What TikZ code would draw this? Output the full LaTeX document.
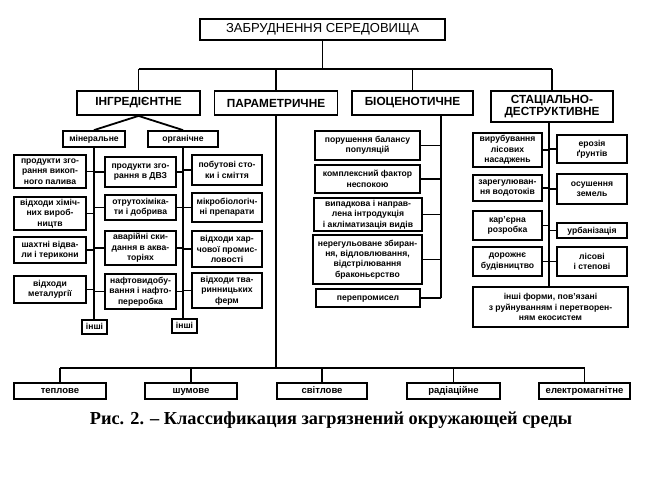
\documentclass[tikz,border=0pt]{standalone}
\usepackage{fontspec}
\setmainfont{Liberation Sans}
\newfontfamily\capfont{Liberation Serif}
\newcommand\mybox[6]{\node[bx, minimum width={(#4-#2)*1pt}, minimum height={(#5-#3)*1pt}] (#1) at ({(#2+#4)/2},{(#3+#5)/2}) {#6};}
\newcommand\myone[6]{\node[base, lc, minimum width={(#4-#2)*1pt}, minimum height={(#5-#3)*1pt}] (#1) at ({(#2+#4)/2},{(#3+#5)/2}) {#6};}
\begin{document}
\begin{tikzpicture}[x=1pt,y=-1pt,
  base/.style={draw, line width=1.8pt, inner sep=0pt, font=\fontsize{8.6}{10.4}\selectfont\bfseries},
  lc/.style={text height=1ex, text depth=0pt},
  bx/.style={base, align=center},
  bt/.style={base, lc, font=\fontsize{9.5}{11}\selectfont\bfseries},
  hd/.style={base, font=\fontsize{11.8}{12.5}\selectfont\bfseries},
  ln/.style={line width=1.8pt}]
\useasboundingbox (0,0) rectangle (647,483);
% top
\node[base, minimum width=245pt, minimum height=21pt, font=\fontsize{13}{14}\selectfont] (T) at (322.5,29.5) {ЗАБРУДНЕННЯ СЕРЕДОВИЩА};
\node[hd, minimum width=123pt, minimum height=24pt] (I) at (138.5,103) {ІНГРЕДІЄНТНЕ};
\node[hd, minimum width=123pt, minimum height=24pt] (P) at (276,103) {ПАРАМЕТРИЧНЕ};
\node[hd, minimum width=121pt, minimum height=24pt] (B) at (412.5,103) {БІОЦЕНОТИЧНЕ};
\node[hd, align=center, minimum width=122pt, minimum height=31pt] (S) at (552,106.5) {СТАЦІАЛЬНО-\\ДЕСТРУКТИВНЕ};
\coordinate (h0) at (0,69);
\draw[ln] (T.south) -- (T.south |- h0);
\draw[ln] (I.north |- h0) -- (S.north |- h0);
\foreach \n in {I,P,B,S} \draw[ln] (\n.north |- h0) -- (\n.north);
% ingredient
\myone{M}{63}{131}{125}{147}{мінеральне}
\myone{O}{148}{131}{218}{147}{органічне}
\draw[ln] (M.north) -- (I.south) -- (O.north);
\myone{Mi}{82}{320}{107}{334}{інші}
\myone{Oi}{172}{319}{197}{333}{інші}
\draw[ln] (M.south) -- (M.south |- Mi.north);
\draw[ln] (O.south) -- (O.south |- Oi.north);
\mybox{m1}{14}{155}{86}{188}{продукти зго-\\рання викоп-\\ного палива}
\mybox{m2}{14}{197}{86}{230}{відходи хіміч-\\них вироб-\\ництв}
\mybox{m3}{14}{237}{86}{263}{шахтні відва-\\ли і терикони}
\mybox{m4}{14}{276}{86}{303}{відходи\\металургії}
\mybox{c1}{105}{157}{176}{187}{продукти зго-\\рання в ДВЗ}
\mybox{c2}{105}{195}{176}{220}{отрутохіміка-\\ти і добрива}
\mybox{c3}{105}{231}{176}{265}{аварійні ски-\\дання в аква-\\торіях}
\mybox{c4}{105}{274}{176}{309}{нафтовидобу-\\вання і нафто-\\переробка}
\mybox{o1}{192}{155}{262}{185}{побутові сто-\\ки і сміття}
\mybox{o2}{192}{193}{262}{222}{мікробіологіч-\\ні препарати}
\mybox{o3}{192}{231}{262}{267}{відходи хар-\\чової промис-\\ловості}
\mybox{o4}{192}{273}{262}{308}{відходи тва-\\ринницьких\\ферм}
\foreach \i in {1,2,3,4} {
  \draw[ln] (m\i.east) -- (m\i.east -| M.south);
  \draw[ln] (c\i.west) -- (c\i.west -| M.south);
  \draw[ln] (c\i.east) -- (c\i.east -| O.south);
  \draw[ln] (o\i.west) -- (o\i.west -| O.south);
}
% parametric
\node[bt, minimum width=92pt, minimum height=16pt] (b1) at (60,391) {теплове};
\node[bt, minimum width=92pt, minimum height=16pt] (b2) at (191,391) {шумове};
\node[bt, minimum width=90pt, minimum height=16pt] (b3) at (322,391) {світлове};
\node[bt, minimum width=93pt, minimum height=16pt] (b4) at (453.5,391) {радіаційне};
\node[bt, minimum width=91pt, minimum height=16pt] (b5) at (584.5,391) {електромагнітне};
\coordinate (hb) at (0,368);
\draw[ln] (P.south) -- (P.south |- hb);
\draw[ln] (b1.north |- hb) -- (b5.north |- hb);
\foreach \n in {b1,b2,b3,b4,b5} \draw[ln] (\n.north |- hb) -- (\n.north);
% biocenotic
\mybox{z1}{315}{131}{420}{160}{порушення балансу\\популяцій}
\mybox{z2}{315}{165}{420}{193}{комплексний фактор\\неспокою}
\mybox{z3}{314}{198}{422}{231}{випадкова і направ-\\лена інтродукція\\і акліматизація видів}
\mybox{z4}{313}{235}{422}{284}{нерегульоване збиран-\\ня, відловлювання,\\відстрілювання\\браконьєрство}
\myone{z5}{316}{289}{420}{307}{перепромисел}
\coordinate (bx) at (441,0);
\draw[ln] (B.south -| bx) -- (z5.east -| bx);
\foreach \n in {z1,z2,z3,z4,z5} \draw[ln] (\n.east) -- (\n.east -| bx);
% stational
\mybox{s1}{473}{133}{542}{167}{вирубування\\лісових\\насаджень}
\mybox{s2}{473}{175}{542}{201}{зарегулюван-\\ня водотоків}
\mybox{s3}{473}{211}{542}{240}{кар’єрна\\розробка}
\mybox{s4}{473}{247}{542}{276}{дорожнє\\будівництво}
\mybox{r1}{557}{135}{627}{163}{ерозія\\ґрунтів}
\mybox{r2}{557}{174}{627}{204}{осушення\\земель}
\myone{r3}{557}{223}{627}{238}{урбанізація}
\mybox{r4}{557}{247}{627}{276}{лісові\\і степові}
\mybox{sf}{473}{287}{628}{327}{інші форми, пов’язані\\з руйнуванням і перетворен-\\ням екосистем}
\coordinate (sx) at (549,0);
\draw[ln] (S.south -| sx) -- (sf.north -| sx);
\foreach \n in {s1,s2,s3,s4} \draw[ln] (\n.east) -- (\n.east -| sx);
\foreach \n in {r1,r2,r3,r4} \draw[ln] (\n.west) -- (\n.west -| sx);
% caption
\node[font=\capfont\bfseries\fontsize{18.3}{21}\selectfont, inner sep=0pt] (cap) at (331,420) {Рис. 2. – Классификация загрязнений окружающей среды};
\end{tikzpicture}
\end{document}
